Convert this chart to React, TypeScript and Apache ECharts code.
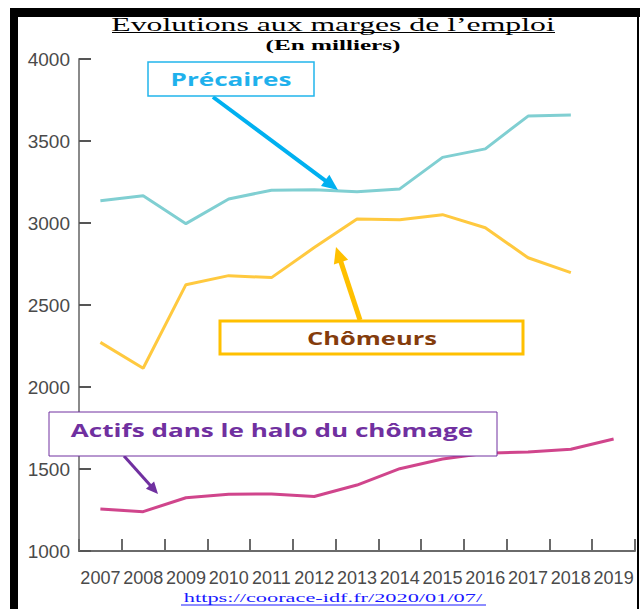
import React, { useEffect, useRef } from "react";
import * as echarts from "echarts";

const years = ["2007","2008","2009","2010","2011","2012","2013","2014","2015","2016","2017","2018","2019"];
const precaires = [3136, 3166, 2996, 3146, 3200, 3202, 3190, 3208, 3400, 3452, 3652, 3658, null];
const chomeurs = [2272, 2114, 2624, 2679, 2667, 2850, 3024, 3020, 3051, 2971, 2788, 2697, null];
const halo = [1256, 1240, 1325, 1346, 1348, 1332, 1402, 1502, 1561, 1596, 1604, 1620, 1683];

const W = 640;
const H = 609;

function arrow(x1: number, y1: number, x2: number, y2: number, color: string, lw: number, hl: number, hw: number) {
  const dx = x2 - x1, dy = y2 - y1;
  const len = Math.sqrt(dx * dx + dy * dy);
  const ux = dx / len, uy = dy / len;
  const bx = x2 - ux * hl, by = y2 - uy * hl;
  const nx = -uy, ny = ux;
  return [
    { type: "line", z: 120, shape: { x1, y1, x2: bx + ux * 1, y2: by + uy * 1 }, style: { stroke: color, lineWidth: lw } },
    { type: "polygon", z: 120, shape: { points: [[x2, y2], [bx + nx * hw / 2, by + ny * hw / 2], [bx - nx * hw / 2, by - ny * hw / 2]] }, style: { fill: color } },
  ];
}

export default function App() {
  const ref = useRef<HTMLDivElement>(null);
  useEffect(() => {
    document.body.style.margin = "0";
    const chart = echarts.init(ref.current!, null, { renderer: "svg" });
    const axisFont = "'Liberation Sans', Arial, sans-serif";
    const boxFont = "'Open Sans', 'Noto Sans', sans-serif";
    const serif = "'Liberation Serif', 'Times New Roman', serif";
    chart.setOption({
      animation: false,
      backgroundColor: "#ffffff",
      grid: { left: 79, right: 5, top: 59, bottom: 58, containLabel: false },
      xAxis: {
        type: "category",
        data: years,
        boundaryGap: true,
        axisLine: { show: true, lineStyle: { color: "#6a6a6a", width: 2 } },
        axisTick: { show: true, inside: true, length: 12, alignWithLabel: false, interval: 0, lineStyle: { color: "#6a6a6a", width: 2 } },
        axisLabel: { interval: 0, color: "#4a4a4a", fontFamily: axisFont, fontSize: 18, margin: 18 },
        splitLine: { show: false },
      },
      yAxis: {
        type: "value",
        min: 1000,
        max: 4000,
        interval: 500,
        axisLine: { show: true, lineStyle: { color: "#8a8a8a", width: 2 } },
        axisTick: { show: true, inside: true, length: 12, lineStyle: { color: "#555555", width: 2 } },
        axisLabel: { color: "#4a4a4a", fontFamily: axisFont, fontSize: 19, margin: 9, formatter: (v: number) => String(v) },
        splitLine: { show: false },
      },
      series: [
        { name: "Précaires", type: "line", data: precaires, symbol: "none", lineStyle: { color: "#80cfd2", width: 3 }, itemStyle: { color: "#80cfd2" }, z: 3 },
        { name: "Chômeurs", type: "line", data: chomeurs, symbol: "none", lineStyle: { color: "#ffc93f", width: 3 }, itemStyle: { color: "#ffc93f" }, z: 3 },
        { name: "Actifs dans le halo du chômage", type: "line", data: halo, symbol: "none", lineStyle: { color: "#d0458c", width: 3 }, itemStyle: { color: "#d0458c" }, z: 3 },
      ],
      graphic: [
        // frame
        { type: "rect", z: 200, shape: { x: 10, y: 8, width: 630, height: 9 }, style: { fill: "#000" } },
        { type: "rect", z: 200, shape: { x: 10, y: 8, width: 8, height: H - 8 }, style: { fill: "#000" } },
        { type: "rect", z: 200, shape: { x: 637, y: 8, width: 2, height: H - 8 }, style: { fill: "#000" } },
        // title
        { type: "text", z: 150, x: 333, y: 25, scaleX: 1.67, style: { text: "Evolutions aux marges de l\u2019emploi", font: `19px ${serif}`, fill: "#000", align: "center", verticalAlign: "middle" } },
        { type: "line", z: 150, shape: { x1: 112, y1: 32.5, x2: 555, y2: 32.5 }, style: { stroke: "#000", lineWidth: 1 } },
        { type: "text", z: 150, x: 333, y: 45, scaleX: 1.68, style: { text: "(En milliers)", font: `bold 15px ${serif}`, fill: "#000", align: "center", verticalAlign: "middle" } },
        // Précaires box
        { type: "rect", z: 130, shape: { x: 148, y: 62, width: 166, height: 34 }, style: { fill: "#fff", stroke: "#22b5ec", lineWidth: 1.5 } },
        { type: "text", z: 131, x: 231, y: 79, scaleX: 1.45, style: { text: "Précaires", font: `bold 18px ${boxFont}`, fill: "#1fb1ec", align: "center", verticalAlign: "middle" } },
        ...arrow(213, 97, 338, 190, "#00b0f0", 4, 16, 14),
        // Chômeurs box
        { type: "rect", z: 130, shape: { x: 220, y: 321, width: 303, height: 33 }, style: { fill: "#fff", stroke: "#ffc000", lineWidth: 3 } },
        { type: "text", z: 131, x: 372, y: 338, scaleX: 1.5, style: { text: "Chômeurs", font: `bold 17px ${boxFont}`, fill: "#843c0c", align: "center", verticalAlign: "middle" } },
        ...arrow(360, 320, 336, 247, "#ffc000", 5, 16, 15),
        // Halo box
        { type: "rect", z: 130, shape: { x: 49, y: 412, width: 448, height: 44 }, style: { fill: "#fff", stroke: "#7030a0", lineWidth: 1 } },
        { type: "text", z: 131, x: 272, y: 430, scaleX: 1.45, style: { text: "Actifs dans le halo du chômage", font: `bold 18px ${boxFont}`, fill: "#7030a0", align: "center", verticalAlign: "middle" } },
        ...arrow(124, 456, 158, 494, "#7030a0", 3, 12, 11),
        // link
        { type: "text", z: 150, x: 333, y: 598, scaleX: 1.72, style: { text: "https://coorace-idf.fr/2020/01/07/", font: `13px ${serif}`, fill: "#1a1aff", align: "center", verticalAlign: "middle" } },
        { type: "line", z: 150, shape: { x1: 181, y1: 605, x2: 486, y2: 605 }, style: { stroke: "#1a1aff", lineWidth: 1 } },
      ],
    });
    return () => chart.dispose();
  }, []);
  return <div ref={ref} style={{ width: W, height: H }} />;
}
